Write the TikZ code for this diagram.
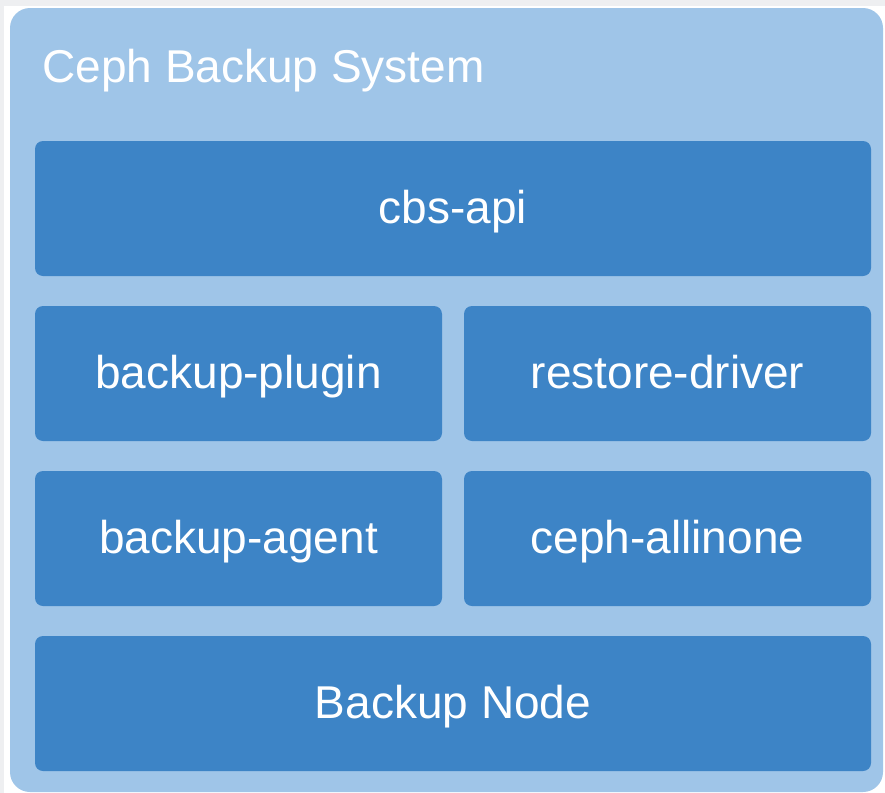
\documentclass[tikz,border=0pt]{standalone}
\usepackage{fontspec}
\setmainfont{Liberation Sans}
\definecolor{pale}{HTML}{9FC5E8}
\definecolor{deep}{HTML}{3D84C6}
\definecolor{edge}{HTML}{EEEFF1}
\tikzset{
outer/.style={fill=pale,rounded corners=10pt},
part/.style={fill=deep,rounded corners=4pt},
lbl/.style={text=white,font=\fontsize{23}{28}\selectfont,inner sep=0pt}
}
\begin{document}
\begin{tikzpicture}[x=0.5pt,y=-0.5pt]
\fill[edge] (0,0) rectangle (885,793);
\fill[white] (4,6) rectangle (885,793);
\useasboundingbox (0,0) rectangle (885,793);
\fill[outer] (10,8) rectangle (883,792);
\node[lbl,anchor=base west] (title) at (42,82) {Ceph Backup System};
\foreach \x/\y/\w/\n/\t in
{
35/141/836/api/cbs-api,
35/306/407/plugin/backup-plugin, 464/306/407/driver/restore-driver,
35/471/407/agent/backup-agent, 464/471/407/ceph/ceph-allinone,
35/636/836/bnode/Backup Node
}
{
\fill[part] (\x,\y) rectangle ++(\w,135);
\node[lbl,anchor=base] (\n) at ({\x+\w/2},{\y+82}) {\t};
}
\end{tikzpicture}
\end{document}
